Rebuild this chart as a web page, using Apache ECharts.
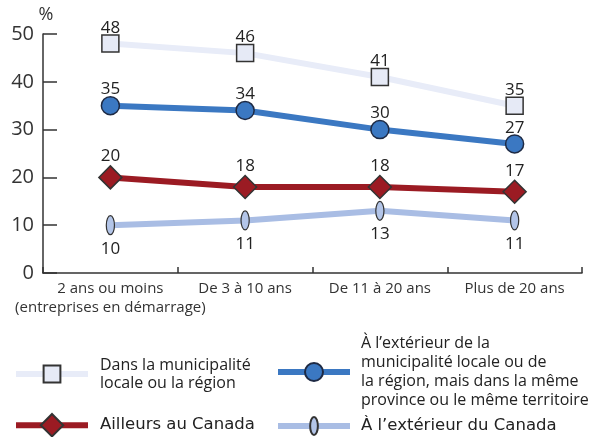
<!DOCTYPE html>
<html>
<head>
<meta charset="utf-8">
<script src="https://cdn.jsdelivr.net/npm/echarts@6/dist/echarts.min.js"></script>
<style>
html, body { margin: 0; padding: 0; background: #fff; }
#chart { width: 596px; height: 437px; }
</style>
</head>
<body>
<div id="chart"></div>
<script>
// catégories et valeurs
let categories = ['2 ans ou moins\n(entreprises en démarrage)', 'De 3 à 10 ans', 'De 11 à 20 ans', 'Plus de 20 ans'];
let dansMunicipalite = [48, 46, 41, 35];
let exterieurMunicipalite = [35, 34, 30, 27];
let ailleursCanada = [20, 18, 18, 17];
let exterieurCanada = [10, 11, 13, 11];
let yTicks = [0, 10, 20, 30, 40, 50];

let names = ['Dans la municipalité\nlocale ou la région',
    'À l\u2019extérieur de la\nmunicipalité locale ou de\nla région, mais dans la même\nprovince ou le même territoire',
    'Ailleurs au Canada',
    'À l\u2019extérieur du Canada'];

let font = 'Open Sans, Liberation Sans, sans-serif';
// ellipse étroite dans une boite carrée (les M servent seulement à fixer la boite)
let ellipse = 'path://M0,0 M20,20 M10,0 A4.3,10 0 1,1 10,20 A4.3,10 0 1,1 10,0 Z';

let myChart = echarts.init(document.getElementById('chart'));

let legendText = {
    color: '#222',
    fontSize: 16,
    fontFamily: font,
    padding: [0, 0, 0, 7]
};

let option = {
    animation: false,
    grid: {
        left: 43,
        right: 14,
        top: 34,
        bottom: 164,
        outerBoundsMode: 'none',
        containLabel: false
    },
    legend: [{
        data: [names[0]],
        left: 13,
        top: 356,
        padding: 0,
        itemWidth: 72,
        itemHeight: 21,
        selectedMode: false,
        lineStyle: {width: 6},
        textStyle: Object.assign({}, legendText, {lineHeight: 18})
    }, {
        data: [names[1]],
        left: 275,
        top: 334,
        padding: 0,
        itemWidth: 72,
        itemHeight: 22.5,
        selectedMode: false,
        lineStyle: {width: 6},
        textStyle: Object.assign({}, legendText, {lineHeight: 19, padding: [0, 0, 0, 6]})
    }, {
        data: [names[2]],
        left: 13,
        top: 413,
        padding: 0,
        itemWidth: 72,
        itemHeight: 28,
        selectedMode: false,
        lineStyle: {width: 6},
        textStyle: Object.assign({}, legendText, {lineHeight: 19, fontFamily: 'DejaVu Sans', fontSize: 16.5})
    }, {
        data: [names[3]],
        left: 275,
        top: 416,
        padding: 0,
        itemWidth: 72,
        itemHeight: 22.5,
        selectedMode: false,
        lineStyle: {width: 6},
        textStyle: Object.assign({}, legendText, {lineHeight: 19, fontFamily: 'DejaVu Sans', fontSize: 16.5, padding: [0, 0, 0, 6]})
    }],
    xAxis: {
        type: 'category',
        data: categories,
        boundaryGap: true,
        axisLine: {
            lineStyle: {color: '#333', width: 1.5}
        },
        axisTick: {
            show: true,
            inside: true,
            length: 6,
            lineStyle: {color: '#333', width: 1.5}
        },
        axisLabel: {
            color: '#333',
            fontSize: 15,
            fontFamily: font,
            lineHeight: 19,
            margin: 6,
            interval: 0
        }
    },
    yAxis: {
        type: 'value',
        min: yTicks[0],
        max: yTicks[yTicks.length - 1],
        interval: 10,
        name: '%',
        nameLocation: 'end',
        nameGap: 6,
        nameTextStyle: {
            color: '#333',
            fontSize: 18,
            fontFamily: font,
            padding: [0, 0, 0, 6]
        },
        axisLine: {
            show: true,
            lineStyle: {color: '#333', width: 1.5}
        },
        axisTick: {
            show: true,
            inside: true,
            length: 14,
            lineStyle: {color: '#333', width: 1.5}
        },
        axisLabel: {
            color: '#333',
            fontSize: 20,
            fontFamily: font,
            margin: 9
        },
        splitLine: {show: false}
    },
    series: [{
        name: names[0],
        type: 'line',
        data: dansMunicipalite,
        symbol: 'rect',
        symbolSize: 17,
        lineStyle: {color: '#e8ecf8', width: 6},
        itemStyle: {color: '#e6eaf6', borderColor: '#333', borderWidth: 1.5},
        label: {
            show: true,
            position: 'top',
            distance: -2,
            color: '#222',
            fontSize: 17,
            fontFamily: font
        },
        z: 2
    }, {
        name: names[1],
        type: 'line',
        data: exterieurMunicipalite,
        symbol: 'circle',
        symbolSize: 18,
        lineStyle: {color: '#3b78c2', width: 6},
        itemStyle: {color: '#3b78c2', borderColor: '#1e2a44', borderWidth: 1.5},
        label: {
            show: true,
            position: 'top',
            distance: -2,
            color: '#222',
            fontSize: 17,
            fontFamily: font
        },
        z: 3
    }, {
        name: names[2],
        type: 'line',
        data: ailleursCanada,
        symbol: 'diamond',
        symbolSize: 23,
        lineStyle: {color: '#9b1b23', width: 6},
        itemStyle: {color: '#9b1b23', borderColor: '#333', borderWidth: 1.5},
        label: {
            show: true,
            position: 'top',
            distance: 0,
            color: '#222',
            fontSize: 17,
            fontFamily: font
        },
        z: 4
    }, {
        name: names[3],
        type: 'line',
        data: exterieurCanada,
        symbol: ellipse,
        symbolSize: 19,
        lineStyle: {color: '#a9bde4', width: 6},
        itemStyle: {color: '#b3c5e8', borderColor: '#333', borderWidth: 1.2},
        label: {
            show: true,
            position: 'bottom',
            distance: 5,
            color: '#222',
            fontSize: 17,
            fontFamily: font
        },
        z: 2
    }]
};
myChart.setOption(option);
</script>
</body>
</html>
